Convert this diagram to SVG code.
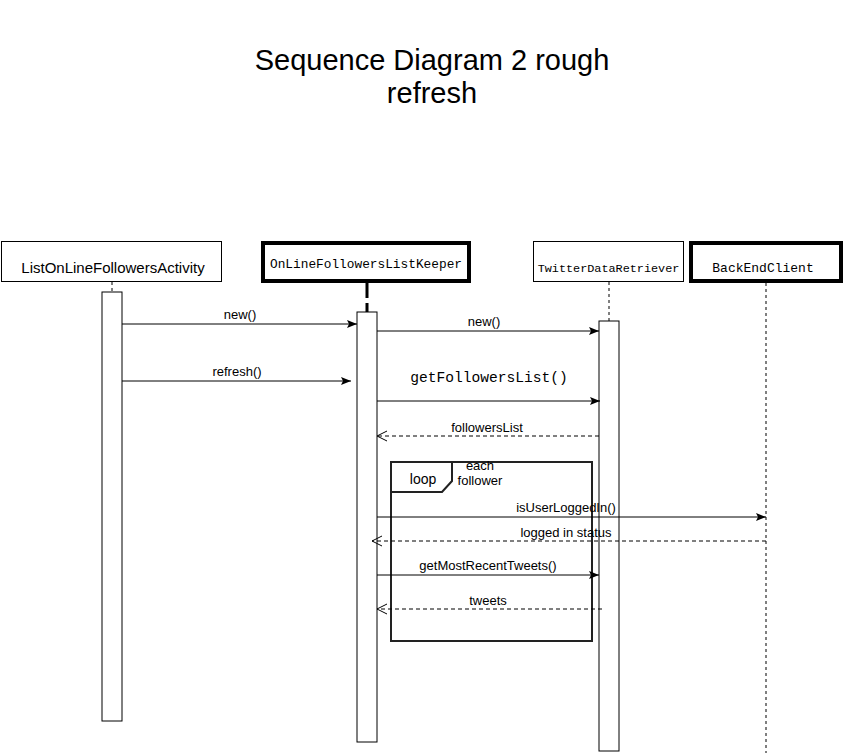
<svg xmlns="http://www.w3.org/2000/svg" width="843" height="753" viewBox="0 0 843 753">
<style>
.sans{font-family:"Liberation Sans",Arial,sans-serif;fill:#000}
.mono{font-family:"Liberation Mono","Courier New",monospace;fill:#000}
.box{fill:#fff;stroke:#000;stroke-width:1}
.thick{fill:#fff;stroke:#000;stroke-width:4}
.act{fill:#fff;stroke:#000;stroke-width:1}
.life{stroke:#000;stroke-width:1;stroke-dasharray:3 3;fill:none}
.msg{stroke:#000;stroke-width:1;fill:none}
.ret{stroke:#000;stroke-width:1;stroke-dasharray:4 3;fill:none}
.lbl{font-size:13px;text-anchor:middle}
</style>
<defs>
<marker id="filled" viewBox="0 0 10 10" refX="10" refY="5" markerWidth="10" markerHeight="10" markerUnits="userSpaceOnUse" orient="auto">
<path d="M0,1 L10,5 L0,9 L2,5 Z" fill="#000"/>
</marker>
<marker id="open" viewBox="0 0 12 12" refX="11" refY="6" markerWidth="12" markerHeight="12" markerUnits="userSpaceOnUse" orient="auto">
<path d="M1,1 L11,6 L1,11" fill="none" stroke="#000" stroke-width="1"/>
</marker>
</defs>
<rect width="843" height="753" fill="#fff"/>
<text class="sans" x="432" y="70" font-size="29" text-anchor="middle">Sequence Diagram 2 rough</text>
<text class="sans" x="432" y="103" font-size="29" text-anchor="middle">refresh</text>

<g id="lifelines">
<line class="life" x1="112" y1="282" x2="112" y2="292"/>
<line x1="367" y1="283" x2="367" y2="312" stroke="#000" stroke-width="3" stroke-dasharray="15 5"/>
<line class="life" x1="609" y1="282" x2="609" y2="321"/>
<line class="life" x1="766" y1="283" x2="766" y2="753"/>
</g>

<g id="ListOnLineFollowersActivity">
<rect class="box" x="1.5" y="241.5" width="220" height="40"/>
<text class="sans" x="113" y="273" font-size="15" text-anchor="middle">ListOnLineFollowersActivity</text>
<rect class="act" x="102" y="292" width="20" height="429"/>
</g>

<g id="OnLineFollowersListKeeper">
<rect class="thick" x="263" y="243" width="206" height="38"/>
<text class="mono" x="366" y="268" font-size="12.8" text-anchor="middle">OnLineFollowersListKeeper</text>
<rect class="act" x="357" y="312" width="20" height="430"/>
</g>

<g id="TwitterDataRetriever">
<rect class="box" x="533.5" y="241.5" width="150" height="40"/>
<text class="mono" x="608.5" y="272" font-size="11.8" text-anchor="middle">TwitterDataRetriever</text>
<rect class="act" x="599" y="321" width="20" height="430"/>
</g>

<g id="BackEndClient">
<rect class="thick" x="691" y="243" width="150" height="38"/>
<text class="mono" x="763" y="272" font-size="13" text-anchor="middle">BackEndClient</text>
</g>

<g id="loop">
<rect x="391" y="462" width="201" height="179" fill="none" stroke="#222" stroke-width="2"/>
<path d="M391,492 L442,492 L452,481 L452,462" fill="none" stroke="#222" stroke-width="2"/>
<text class="sans" x="423" y="484" font-size="14" text-anchor="middle">loop</text>
<text class="sans" x="480" y="470" font-size="13" text-anchor="middle">each</text>
<text class="sans" x="480" y="485" font-size="13" text-anchor="middle">follower</text>
</g>

<g id="connectors">
<line class="msg" x1="122" y1="324" x2="357" y2="324" marker-end="url(#filled)"/>
<text class="sans lbl" x="240" y="319">new()</text>
<line class="msg" x1="377" y1="331" x2="599" y2="331" marker-end="url(#filled)"/>
<text class="sans lbl" x="484" y="326">new()</text>
<line class="msg" x1="122" y1="381" x2="351" y2="381" marker-end="url(#filled)"/>
<text class="sans lbl" x="237" y="376">refresh()</text>
<text class="mono" x="489" y="382" font-size="14.6" text-anchor="middle">getFollowersList()</text>
<line class="msg" x1="377" y1="401" x2="600" y2="401" marker-end="url(#filled)"/>
<line class="ret" x1="599" y1="436" x2="377" y2="436" marker-end="url(#open)"/>
<text class="sans lbl" x="487" y="432">followersList</text>
<line class="msg" x1="377" y1="517" x2="766" y2="517" marker-end="url(#filled)"/>
<text class="sans lbl" x="566" y="512">isUserLoggedIn()</text>
<line class="ret" x1="766" y1="541" x2="372" y2="541" marker-end="url(#open)"/>
<text class="sans lbl" x="566" y="537">logged in status</text>
<line class="msg" x1="377" y1="575" x2="599" y2="575" marker-end="url(#filled)"/>
<text class="sans lbl" x="488" y="570">getMostRecentTweets()</text>
<line class="ret" x1="602" y1="609" x2="377" y2="609" marker-end="url(#open)"/>
<text class="sans lbl" x="488" y="605">tweets</text>
</g>
</svg>
